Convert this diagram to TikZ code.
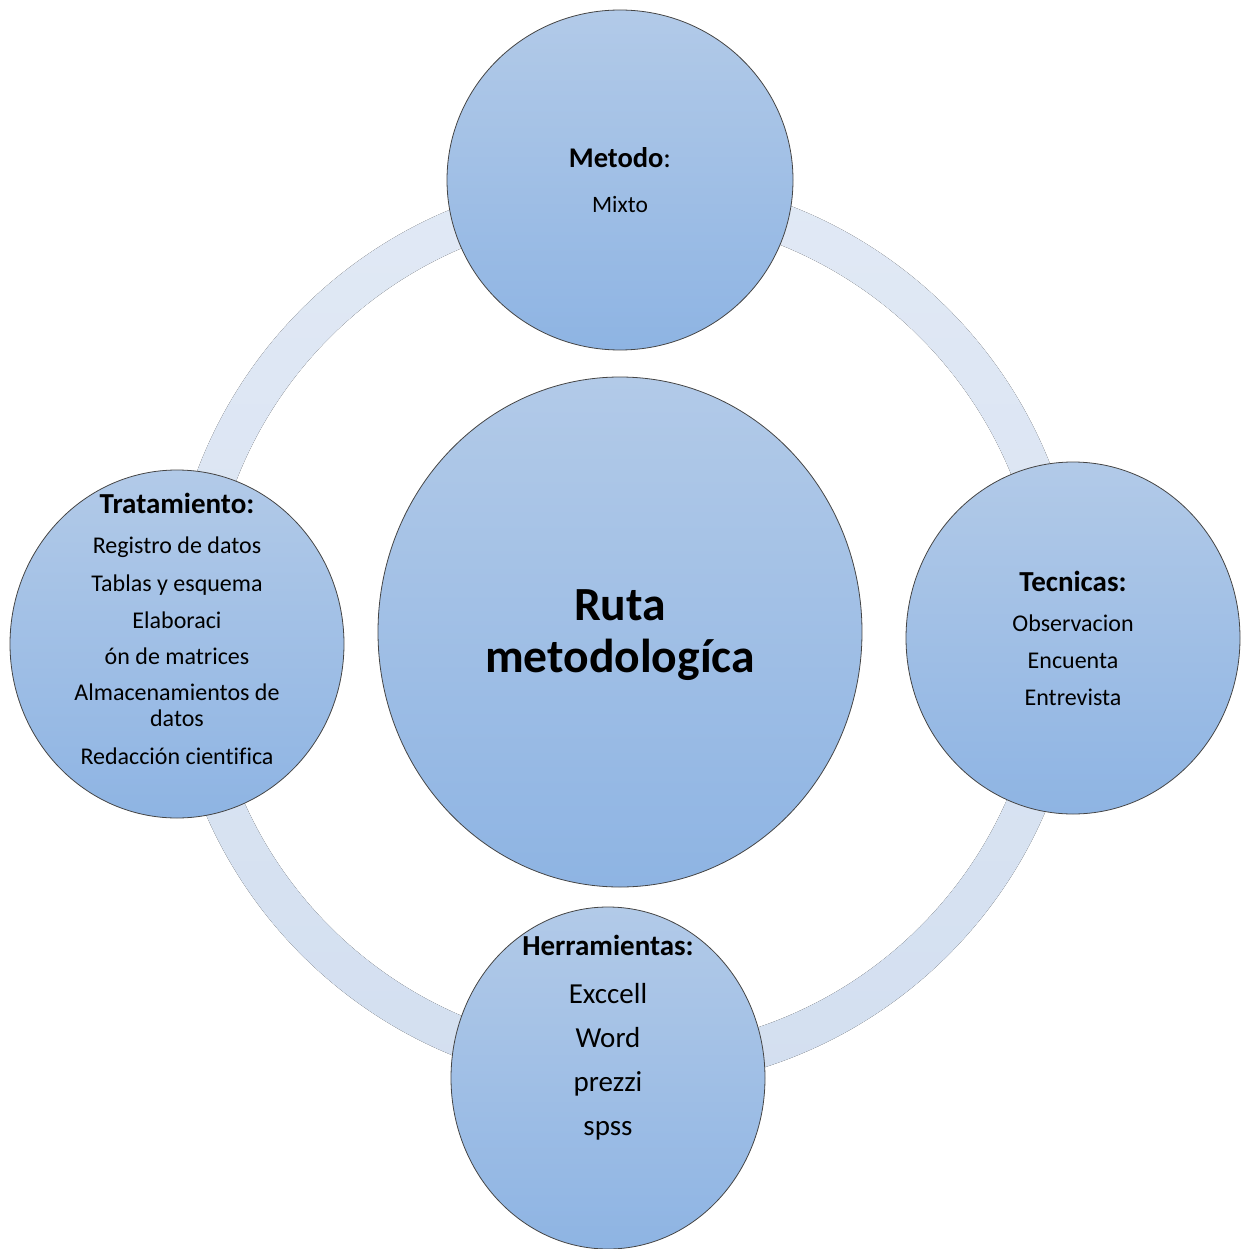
\documentclass[tikz,border=0pt]{standalone}
\usepackage{fontspec}
\setmainfont{Carlito}[Ligatures=NoCommon]
\usetikzlibrary{shapes.geometric}
\definecolor{ctop}{HTML}{B2CAE8}
\definecolor{cbot}{HTML}{8EB4E3}
\definecolor{ringtop}{HTML}{E1E9F5}
\definecolor{ringbot}{HTML}{D3DFF0}
\definecolor{edge}{HTML}{454545}
\tikzset{
  bubble/.style={ellipse, draw=edge, line width=0.8pt, top color=ctop, bottom color=cbot, inner sep=0pt, outer sep=0pt},
  head/.style={anchor=base, inner sep=0pt, font=\fontsize{29}{35}\selectfont\bfseries},
  item/.style={anchor=base, inner sep=0pt, font=\fontsize{24}{29}\selectfont},
  bigitem/.style={anchor=base, inner sep=0pt, font=\fontsize{29}{35}\selectfont},
  title/.style={anchor=base, inner sep=0pt, font=\fontsize{47.6}{55}\selectfont\bfseries}
}
\begin{document}
\begin{tikzpicture}[x=1pt,y=-1pt]
\useasboundingbox (0,0) rectangle (1243,1249);
% ring
\coordinate (ringc) at (625,632);
\fill[top color=ringtop, bottom color=ringbot, even odd rule]
  (ringc) circle[radius=457pt] (ringc) circle[radius=417pt];
% bubbles
\node[bubble, minimum width=484pt, minimum height=510pt] (center) at (620,632) {};
\node[bubble, minimum width=346pt, minimum height=340pt] (top) at (620,180) {};
\node[bubble, minimum width=334pt, minimum height=348pt] (left) at (177,644) {};
\node[bubble, minimum width=334pt, minimum height=352pt] (right) at (1073,638) {};
\node[bubble, minimum width=314pt, minimum height=342pt] (bottom) at (608,1078) {};
% center text
\node[title] (c1) at (620,620) {Ruta};
\node[title] (c2) at (620,672) {metodologíca};
% top
\node[head, font=\fontsize{28.5}{34}\selectfont\bfseries] (t1) at (620,168) {Metodo\mdseries:};
\node[item, font=\fontsize{23.5}{28}\selectfont] (t2) at (620,213) {Mixto};
% left
\node[head] (l1) at (177,513) {Tratamiento:};
\node[item] (l2) at (177,553.5) {Registro de datos};
\node[item] (l3) at (177,591) {Tablas y esquema};
\node[item] (l4) at (177,628) {Elaboraci};
\node[item] (l5) at (177,664) {ón de matrices};
\node[item] (l6) at (177,700) {Almacenamientos de};
\node[item] (l7) at (177,726.5) {datos};
\node[item] (l8) at (177,764) {Redacción cientifica};
% right
\node[head] (r1) at (1073,591.5) {Tecnicas:};
\node[item] (r2) at (1073,631.5) {Observacion};
\node[item] (r3) at (1073,668.5) {Encuenta};
\node[item] (r4) at (1073,705) {Entrevista};
% bottom
\node[head] (b1) at (608,955) {Herramientas:};
\node[bigitem] (b2) at (608,1003) {Exccell};
\node[bigitem] (b3) at (608,1047) {Word};
\node[bigitem] (b4) at (608,1091) {prezzi};
\node[bigitem] (b5) at (608,1135) {spss};
\end{tikzpicture}
\end{document}
